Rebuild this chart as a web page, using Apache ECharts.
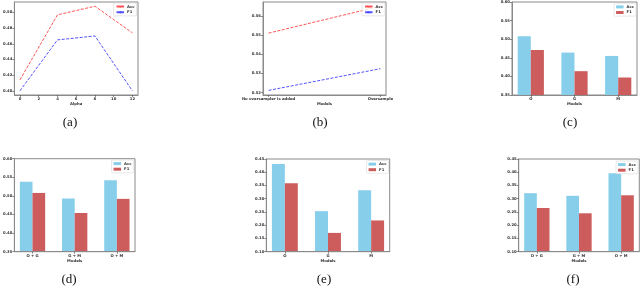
<!DOCTYPE html>
<html><head><meta charset="utf-8">
<script src="https://cdn.jsdelivr.net/npm/echarts@6/dist/echarts.min.js"></script>
<style>html,body{margin:0;padding:0;background:#fff}#c{width:640px;height:304px}</style>
</head><body><div id="c"></div>
<script>
// ---- data ----
const alphaVals = [0, 4, 8, 12];
const accA = [0.414, 0.497, 0.508, 0.474];
const f1A  = [0.400, 0.465, 0.470, 0.400];
const catsB = ['No oversampler is added', 'Oversample'];
const accB = [0.551, 0.565];
const f1B  = [0.5212, 0.5325];
const catsC = ['O', 'G', 'M'];
const accC = [0.508, 0.464, 0.455];
const f1C  = [0.471, 0.414, 0.397];
const catsD = ['O + G', 'G + M', 'O + M'];
const accD = [0.538, 0.493, 0.542];
const f1D  = [0.508, 0.454, 0.492];
const catsE = ['O', 'G', 'M'];
const accE = [0.431, 0.253, 0.332];
const f1E  = [0.358, 0.171, 0.218];
const catsF = ['O + G', 'G + M', 'O + M'];
const accF = [0.321, 0.311, 0.396];
const f1F  = [0.265, 0.245, 0.313];
// tick labels
const xTicksA = [0, 2, 4, 6, 8, 10, 12];
const yTicksA = [0.40, 0.42, 0.44, 0.46, 0.48, 0.50];
const yTicksB = [0.52, 0.53, 0.54, 0.55, 0.56];
const yTicksCD = [0.35, 0.40, 0.45, 0.50, 0.55, 0.60];
const yTicksEF = [0.10, 0.15, 0.20, 0.25, 0.30, 0.35, 0.40, 0.45];
const catTicks2 = [0, 1];
const catTicks3 = [0, 1, 2];

// ---- styles ----
const SPINE = '#8a8a8a';
const FS = 3.8;
const FONT = 'DejaVu Sans';
const ACC_LINE = 'rgba(255,40,40,0.8)';
const F1_LINE = 'rgba(40,40,255,0.8)';
const ACC_BAR = '#87ceeb';
const F1_BAR = '#cd5c5c';

const grids = [
  {left: 13, top: 2, width: 125, height: 93},
  {left: 263, top: 2, width: 123, height: 93},
  {left: 512, top: 2, width: 125, height: 93},
  {left: 12, top: 158.7, width: 123, height: 93},
  {left: 266.3, top: 159, width: 123.4, height: 92.7},
  {left: 518.7, top: 159, width: 120.6, height: 92.7}
].map(g => Object.assign({show: true, borderColor: SPINE, borderWidth: 1, backgroundColor: 'transparent'}, g));

function xAx(i, min, max, ticks, name, fmt) {
  return {
    type: 'value', gridIndex: i, min: min, max: max, z: 5,
    axisLine: {show: true, onZero: false, lineStyle: {color: SPINE, width: 1}},
    axisTick: {show: true, customValues: ticks, length: 2, lineStyle: {color: '#444', width: 0.6}},
    axisLabel: {show: true, customValues: ticks, fontSize: FS, fontFamily: FONT, fontWeight: 'bold', color: '#333', margin: 2, formatter: fmt},
    splitLine: {show: false},
    name: name, nameLocation: 'middle', nameGap: 7.5,
    nameTextStyle: {fontSize: FS, fontFamily: FONT, fontWeight: 'bold', color: '#333'}
  };
}
function yAx(i, min, max, ticks) {
  return {
    type: 'value', gridIndex: i, min: min, max: max, z: 5,
    axisLine: {show: true, onZero: false, lineStyle: {color: SPINE, width: 1}},
    axisTick: {show: true, customValues: ticks, length: 2, lineStyle: {color: '#444', width: 0.6}},
    axisLabel: {show: true, customValues: ticks, fontSize: FS, fontFamily: FONT, fontWeight: 'bold', color: '#333', margin: 2, formatter: v => v.toFixed(2)},
    splitLine: {show: false}
  };
}
const catFmt = cats => (v => cats[Math.round(v)] || '');

const xAxes = [
  xAx(0, -0.6, 12.6, xTicksA, 'Alpha', v => String(v)),
  xAx(1, -0.05, 1.05, catTicks2, 'Models', catFmt(catsB)),
  xAx(2, -0.43, 2.43, catTicks3, 'Models', catFmt(catsC)),
  xAx(3, -0.43, 2.43, catTicks3, 'Models', catFmt(catsD)),
  xAx(4, -0.43, 2.43, catTicks3, 'Models', catFmt(catsE)),
  xAx(5, -0.43, 2.43, catTicks3, 'Models', catFmt(catsF))
];
const yAxes = [
  yAx(0, 0.3946, 0.5134, yTicksA),
  yAx(1, 0.5188, 0.5672, yTicksB),
  yAx(2, 0.35, 0.60, yTicksCD),
  yAx(3, 0.35, 0.60, yTicksCD),
  yAx(4, 0.10, 0.45, yTicksEF),
  yAx(5, 0.10, 0.45, yTicksEF)
];

function lineS(i, name, xs, ys, color) {
  return {
    type: 'line', name: name, xAxisIndex: i, yAxisIndex: i, symbol: 'none',
    data: ys.map((v, k) => [xs[k], v]),
    lineStyle: {color: color, width: 1, type: [3, 1.5]}, itemStyle: {color: color},
    animation: false
  };
}
function barS(i, name, ys, color) {
  return {
    type: 'bar', name: name, xAxisIndex: i, yAxisIndex: i,
    data: ys.map((v, k) => [k, v]),
    barWidth: '30%', barGap: '0%',
    itemStyle: {color: color}, animation: false
  };
}
const series = [
  lineS(0, 'Acc', alphaVals, accA, ACC_LINE),
  lineS(0, 'F1', alphaVals, f1A, F1_LINE),
  lineS(1, 'Acc', catTicks2, accB, ACC_LINE),
  lineS(1, 'F1', catTicks2, f1B, F1_LINE),
  barS(2, 'Acc', accC, ACC_BAR), barS(2, 'F1', f1C, F1_BAR),
  barS(3, 'Acc', accD, ACC_BAR), barS(3, 'F1', f1D, F1_BAR),
  barS(4, 'Acc', accE, ACC_BAR), barS(4, 'F1', f1E, F1_BAR),
  barS(5, 'Acc', accF, ACC_BAR), barS(5, 'F1', f1F, F1_BAR)
];

function legendBox(right, top, bar) {
  const data = bar
    ? [{name: 'Acc', icon: 'rect', itemStyle: {color: ACC_BAR, borderWidth: 0}},
       {name: 'F1', icon: 'rect', itemStyle: {color: F1_BAR, borderWidth: 0}}]
    : ['Acc', 'F1'];
  return {
    orient: 'vertical', right: right, top: top, data: data, selectedMode: false,
    itemWidth: 7.5, itemHeight: 3, itemGap: 1.6, padding: [1.6, 2, 1.6, 2],
    borderColor: '#d8d8d8', borderWidth: 0.6, borderRadius: 1, backgroundColor: 'rgba(255,255,255,0.8)',
    textStyle: {fontSize: FS, fontFamily: FONT, fontWeight: 'bold', color: '#333', padding: [0, 0, 0, -2]}
  };
}
const legends = [
  legendBox(503.5, 3, false),
  legendBox(255, 3, false),
  legendBox(4, 3.3, true),
  legendBox(506.5, 160, true),
  legendBox(251.5, 160.5, true),
  legendBox(2, 161, true)
];

function cap(text, x, y) {
  return {text: text, left: x, top: y, textAlign: 'center', padding: 0,
    textStyle: {fontFamily: 'Liberation Serif', fontSize: 13, fontWeight: 'normal', color: '#111'}};
}
const titles = [
  cap('(a)', 70, 116), cap('(b)', 320, 116), cap('(c)', 570, 116),
  cap('(d)', 69, 273.5), cap('(e)', 324, 273.5), cap('(f)', 573, 273.5)
];

const chart = echarts.init(document.getElementById('c'), null, {renderer: 'canvas'});
chart.setOption({
  animation: false,
  title: titles,
  legend: legends,
  grid: grids,
  xAxis: xAxes,
  yAxis: yAxes,
  series: series
});
</script></body></html>
